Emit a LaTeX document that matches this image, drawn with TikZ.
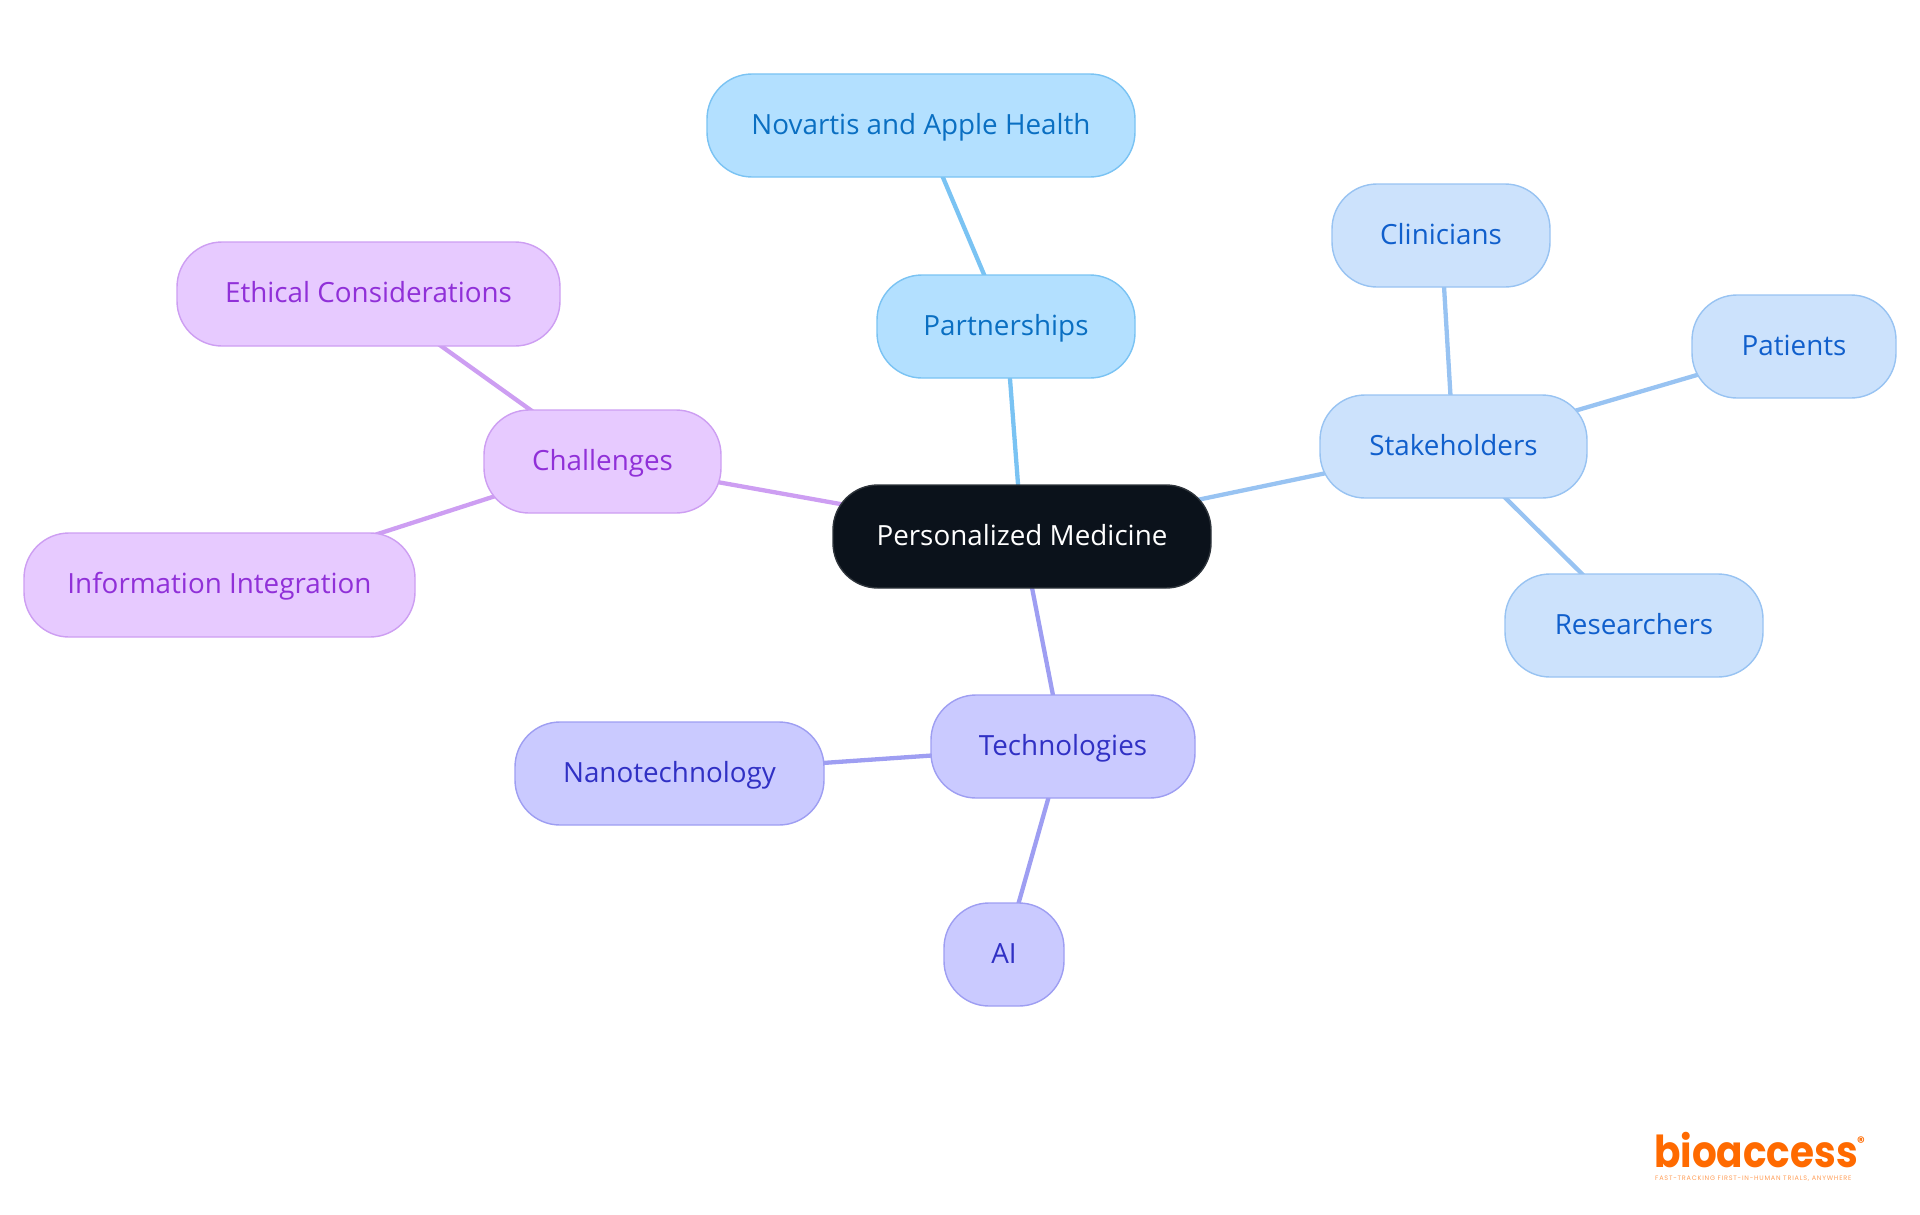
\documentclass[tikz,border=0pt]{standalone}
\usepackage{graphicx}
\usepackage{fontspec}
\setmainfont{Open Sans}
\newfontfamily\logofont{Poppins}
\usetikzlibrary{backgrounds}
\definecolor{rootfill}{HTML}{0B121B}
\definecolor{rootline}{HTML}{2E343B}
\definecolor{pfill}{HTML}{B3E0FF}
\definecolor{pline}{HTML}{7AC3F3}
\definecolor{ptext}{HTML}{0A6FC2}
\definecolor{sfill}{HTML}{CCE2FC}
\definecolor{sline}{HTML}{98C3F2}
\definecolor{stext}{HTML}{105FCC}
\definecolor{tfill}{HTML}{CACAFF}
\definecolor{tline}{HTML}{9E9EF2}
\definecolor{ttext}{HTML}{3030C4}
\definecolor{cfill}{HTML}{E7CAFF}
\definecolor{cline}{HTML}{CD9EF2}
\definecolor{ctext}{HTML}{9030D8}
\definecolor{logoorange}{HTML}{FF6A00}
\tikzset{
  x=1pt,y=-1pt,
  mm/.style={rectangle,rounded corners=45pt,line width=1.4pt,inner sep=0pt,anchor=center,
    text height=22pt,text depth=5pt,
    font=\fontsize{27.8}{32}\selectfont},
  rootn/.style={mm,draw=rootline,fill=rootfill,text=white},
  pn/.style={mm,draw=pline,fill=pfill,text=ptext},
  sn/.style={mm,draw=sline,fill=sfill,text=stext},
  tn/.style={mm,draw=tline,fill=tfill,text=ttext},
  cn/.style={mm,draw=cline,fill=cfill,text=ctext},
  plink/.style={draw=pline,line width=4.3pt},
  slink/.style={draw=sline,line width=4.3pt},
  tlink/.style={draw=tline,line width=4.3pt},
  clink/.style={draw=cline,line width=4.3pt},
}
\newcommand{\mmnode}[7]{\node[#1,minimum width=#5pt-#4pt,minimum height=#7pt-#6pt] (#2) at ({(#4+#5)/2},{(#6+#7)/2}) {#3};}
\begin{document}
\begin{tikzpicture}
\useasboundingbox (0,0) rectangle (1920,1215);
\mmnode{rootn}{root}{Personalized Medicine}{833}{1211}{485}{588}
\mmnode{pn}{partner}{Partnerships}{877}{1135}{275}{378}
\mmnode{pn}{novartis}{Novartis and Apple Health}{707}{1135}{74}{177}
\mmnode{sn}{stake}{Stakeholders}{1320}{1587}{395}{498}
\mmnode{sn}{clin}{Clinicians}{1332}{1550}{184}{287}
\mmnode{sn}{pat}{Patients}{1692}{1896}{295}{398}
\mmnode{sn}{res}{Researchers}{1505}{1763}{574}{677}
\mmnode{tn}{tech}{Technologies}{931}{1195}{695}{798}
\mmnode{tn}{nano}{Nanotechnology}{515}{824}{722}{825}
\mmnode{tn}{ai}{AI}{944}{1064}{903}{1006}
\mmnode{cn}{chal}{Challenges}{484}{721}{410}{513}
\mmnode{cn}{ethic}{Ethical Considerations}{177}{560}{242}{346}
\mmnode{cn}{info}{Information Integration}{24}{415}{533}{637}
\begin{scope}[on background layer]
\draw[plink] (root.center) -- (partner.center);
\draw[plink] (partner.center) -- (novartis.center);
\draw[slink] (root.center) -- (stake.center);
\draw[slink] (stake.center) -- (clin.center);
\draw[slink] (stake.center) -- (pat.center);
\draw[slink] (stake.center) -- (res.center);
\draw[tlink] (root.center) -- (tech.center);
\draw[tlink] (tech.center) -- (nano.center);
\draw[tlink] (tech.center) -- (ai.center);
\draw[clink] (root.center) -- (chal.center);
\draw[clink] (chal.center) -- (ethic.center);
\draw[clink] (chal.center) -- (info.center);
\end{scope}
\node[inner sep=0pt,text=logoorange,anchor=base west,font=\logofont\bfseries\fontsize{44}{44}\selectfont] (logo) at (1654,1167) {\scalebox{0.885}[1]{bioaccess}};
\node[inner sep=0pt,text=logoorange,anchor=center,font=\logofont\bfseries\fontsize{15}{15}\selectfont] (reg) at (1861,1142) {®};
\node[inner sep=0pt,text=logoorange!65,anchor=base west,font=\logofont\addfontfeature{LetterSpace=12}\fontsize{6.5}{7}\selectfont] (tag) at (1655,1180) {FAST-TRACKING FIRST-IN-HUMAN TRIALS, ANYWHERE};
\end{tikzpicture}
\end{document}
